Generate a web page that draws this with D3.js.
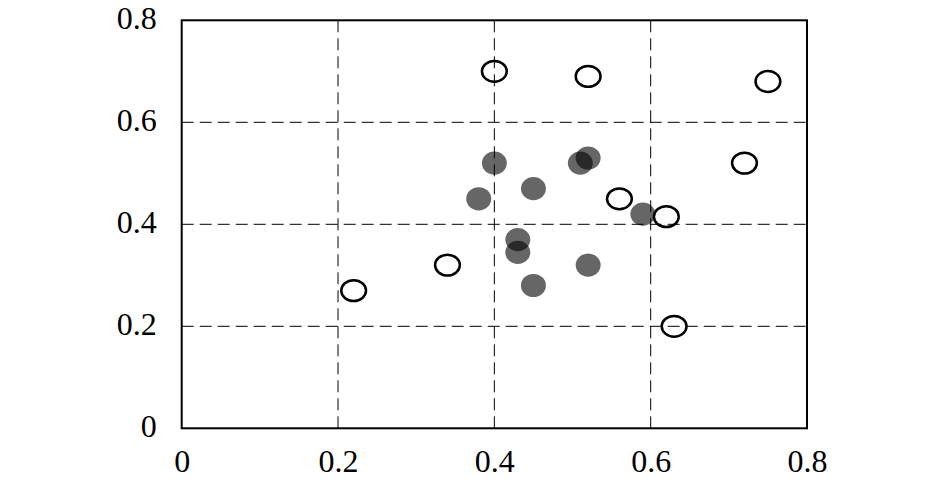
<!DOCTYPE html>
<html>
<head>
<meta charset="utf-8">
<script src="https://cdn.jsdelivr.net/npm/d3@7"></script>
<style>
  html, body { margin: 0; padding: 0; background: #fff; }
  svg { display: block; }
</style>
</head>
<body>
<svg id="chart" width="945" height="483"></svg>
<script>
// Data
const openX = [0.22, 0.34, 0.40, 0.52, 0.75, 0.56, 0.62, 0.72, 0.63];
const openY = [0.27, 0.32, 0.70, 0.69, 0.68, 0.45, 0.415, 0.52, 0.20];
const filledX = [0.40, 0.38, 0.45, 0.43, 0.43, 0.45, 0.52, 0.51, 0.52, 0.59];
const filledY = [0.52, 0.45, 0.47, 0.37, 0.345, 0.28, 0.32, 0.52, 0.53, 0.42];
const xTicks = [0, 0.2, 0.4, 0.6, 0.8];
const yTicks = [0, 0.2, 0.4, 0.6, 0.8];

const svg = d3.select("#chart");
const L = 181.7, R = 807, T = 20.3, B = 428.3;
const x = d3.scaleLinear().domain([0, 0.8]).range([L, R]);
const y = d3.scaleLinear().domain([0, 0.8]).range([B, T]);

// filled markers
svg.append("g").selectAll("ellipse").data(filledX.map((v, i) => [v, filledY[i]]))
  .join("ellipse")
  .attr("cx", d => x(d[0])).attr("cy", d => y(d[1]))
  .attr("rx", 12.5).attr("ry", 11.6)
  .attr("fill", "#000").attr("fill-opacity", 0.6);

// open markers
svg.append("g").selectAll("ellipse").data(openX.map((v, i) => [v, openY[i]]))
  .join("ellipse")
  .attr("cx", d => x(d[0])).attr("cy", d => y(d[1]))
  .attr("rx", 12.4).attr("ry", 10.4)
  .attr("fill", "#fff").attr("stroke", "#000").attr("stroke-width", 2.5);

// grid lines
const grid = svg.append("g");
grid.selectAll("line.v").data(xTicks.filter(t => t > 0 && t < 0.8)).join("line")
  .attr("x1", d => x(d)).attr("x2", d => x(d)).attr("y1", T).attr("y2", B)
  .attr("stroke", "#000").attr("stroke-width", 1).attr("stroke-dasharray", "12,6");
grid.selectAll("line.h").data(yTicks.filter(t => t > 0 && t < 0.8)).join("line")
  .attr("x1", L).attr("x2", R).attr("y1", d => y(d)).attr("y2", d => y(d))
  .attr("stroke", "#000").attr("stroke-width", 1).attr("stroke-dasharray", "12,6");

// border
svg.append("rect").attr("x", L).attr("y", T).attr("width", R - L).attr("height", B - T)
  .attr("fill", "none").attr("stroke", "#000").attr("stroke-width", 2);

// axes (labels only)
const fmt = d => d === 0 ? "0" : d3.format(".1f")(d);
const FONT = "Liberation Serif";
const xAxis = svg.append("g").attr("transform", `translate(0,${B})`)
  .call(d3.axisBottom(x).tickValues(xTicks).tickFormat(fmt).tickSize(0).tickPadding(21));
xAxis.select(".domain").remove();
xAxis.attr("font-family", FONT).attr("font-size", 32);
xAxis.selectAll("text").attr("fill", "#000");
const yAxis = svg.append("g").attr("transform", `translate(${L},0)`)
  .call(d3.axisLeft(y).tickValues(yTicks).tickFormat(fmt).tickSize(0).tickPadding(25));
yAxis.select(".domain").remove();
yAxis.attr("font-family", FONT).attr("font-size", 32);
yAxis.selectAll("text").attr("fill", "#000").attr("dy", "0.25em");
</script>
</body>
</html>
